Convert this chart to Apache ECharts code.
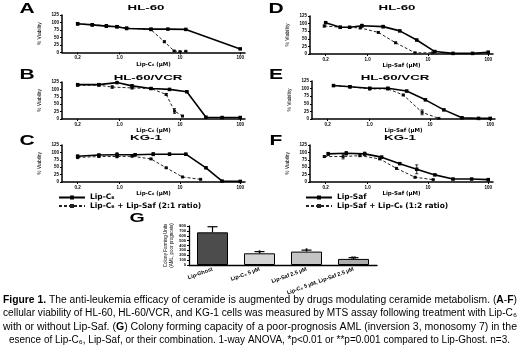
<!DOCTYPE html>
<html><head><meta charset="utf-8">
<script src="https://cdn.jsdelivr.net/npm/echarts@6/dist/echarts.min.js"></script>
<style>html,body{margin:0;padding:0;background:#fff}#c{width:520px;height:357px}</style>
</head><body><div id="c"></div>
<script>
// ---------------- DATA ----------------
const xTickVals = [0.2, 1, 10, 100];
const xTickLabels = ['0.2', '1.0', '10', '100'];
const yTickMax = 125;

// Panel A  HL-60, Lip-C6
const aSolidDose = [0.2, 0.35, 0.6, 0.9, 1.3, 3.3, 6.3, 12.5, 100];
const aSolidVal  = [96, 92, 88, 86, 80, 78, 78, 77, 12];
const aSolidErr  = [3, 4, 4, 4, 2, 2, 2, 2, 2];
const aComboDose = [0.2, 0.35, 0.6, 0.9, 1.3, 3.3, 5.5, 8, 10, 12.5];
const aComboVal  = [95, 93, 89, 86, 82, 76, 36, 5, 3, 4];
const aComboErr  = [3, 3, 3, 3, 2, 2, 3, 2, 1, 1];
// Panel B  HL-60/VCR, Lip-C6
const bSolidDose = [0.2, 0.45, 0.9, 1.6, 3.3, 6.7, 13, 27, 50, 100];
const bSolidVal  = [116, 116, 123, 112, 103, 100, 92, 6, 5, 5];
const bSolidErr  = [2, 2, 2, 3, 2, 2, 2, 1, 1, 1];
const bComboDose = [0.2, 0.45, 0.75, 1.6, 3.3, 5.9, 8.1, 11];
const bComboVal  = [114, 114, 108, 105, 103, 83, 27, 10];
const bComboErr  = [2, 2, 4, 3, 2, 3, 8, 2];
// Panel C  KG-1, Lip-C6
const cSolidDose = [0.2, 0.45, 0.9, 1.8, 3.6, 6.7, 12.5, 27, 50, 100];
const cSolidVal  = [87, 91, 92, 92, 94, 94, 94, 48, 3, 2];
const cSolidErr  = [4, 3, 7, 3, 5, 4, 3, 2, 1, 1];
const cComboDose = [0.2, 0.45, 0.9, 1.6, 3.3, 5.9, 11, 22];
const cComboVal  = [83, 86, 86, 87, 78, 48, 17, 9];
const cComboErr  = [4, 3, 4, 2, 2, 2, 2, 1];
// Panel D  HL-60, Lip-Saf
const dSolidDose = [0.2, 0.35, 0.5, 0.8, 1.8, 3.4, 6.5, 13, 26, 55, 100];
const dSolidVal  = [103, 88, 88, 93, 90, 76, 46, 8, 2, 2, 6];
const dSolidErr  = [2, 3, 2, 5, 4, 2, 2, 2, 1, 1, 1];
const dComboDose = [0.19, 0.35, 0.75, 1.5, 2.9, 6.1, 12];
const dComboVal  = [92, 88, 86, 71, 37, 4, 4];
const dComboErr  = [3, 2, 3, 2, 2, 1, 1];
// Panel E  HL-60/VCR, Lip-Saf
const eSolidDose = [0.25, 0.47, 1.0, 2.0, 4.1, 8.4, 17, 34, 64, 100];
const eSolidVal  = [110, 106, 101, 101, 92, 63, 30, 4, 2, 2];
const eSolidErr  = [2, 3, 3, 3, 2, 2, 2, 1, 1, 2];
const eComboDose = [0.25, 0.47, 1.0, 2.0, 3.6, 7.4, 14];
const eComboVal  = [110, 106, 99, 99, 79, 22, 2];
const eComboErr  = [2, 3, 3, 3, 2, 8, 1];
// Panel F  KG-1, Lip-Saf
const fSolidDose = [0.22, 0.44, 0.89, 1.7, 3.4, 6.5, 13, 26, 53, 100];
const fSolidVal  = [95, 97, 95, 84, 62, 43, 24, 10, 10, 8];
const fSolidErr  = [5, 6, 6, 3, 2, 15, 2, 2, 1, 1];
const fComboDose = [0.19, 0.39, 0.74, 1.58, 3.0, 6.1, 12.2];
const fComboVal  = [86, 86, 89, 78, 46, 16, 8];
const fComboErr  = [3, 8, 3, 2, 2, 2, 1];

// Panel G  colony forming units
const gCats  = ['Lip-Ghost', 'Lip-C₆ 5 µM', 'Lip-Saf 2.5 µM', 'Lip-C₆ 5 µM, Lip-Saf 2.5 µM'];
const gVals  = [670, 240, 275, 125];
const gErr   = [115, 35, 30, 25];
const gStars = ['', '*', '*', '**'];

const nameC6 = 'Lip-C₆';
const nameC6Combo = 'Lip-C₆ + Lip-Saf (2:1 ratio)';
const nameSaf = 'Lip-Saf';
const nameSafCombo = 'Lip-Saf + Lip-C₆ (1:2 ratio)';

const caption = [
  '{b|Figure 1.} The anti-leukemia efficacy of ceramide is augmented by drugs modulating ceramide metabolism. ({b|A}-{b|F})',
  'cellular viability of HL-60, HL-60/VCR, and KG-1 cells was measured by MTS assay following treatment with Lip-C₆',
  'with or without Lip-Saf. ({b|G}) Colony forming capacity of a poor-prognosis AML (inversion 3, monosomy 7) in the',
  'esence of Lip-C₆, Lip-Saf, or their combination. 1-way ANOVA, *p<0.01 or **p=0.001 compared to Lip-Ghost. n=3.'
];

// ---------------- LAYOUT ----------------
const FF = 'Liberation Sans, Arial, sans-serif';
const FW = 'DejaVu Sans, Liberation Sans, sans-serif';
const panels = [
  {g:[62,15,183,37.5], letter:'A', lp:[27,9], title:'HL-60', tp:[146,8.5], xname:'Lip-C₆ (µM)', s:[aSolidDose,aSolidVal,aSolidErr], c:[aComboDose,aComboVal,aComboErr], n:[nameC6,nameC6Combo]},
  {g:[62,82,183,37], letter:'B', lp:[27,75], title:'HL-60/VCR', tp:[148,78], xname:'Lip-C₆ (µM)', s:[bSolidDose,bSolidVal,bSolidErr], c:[bComboDose,bComboVal,bComboErr], n:[nameC6,nameC6Combo]},
  {g:[62,145,183,37], letter:'C', lp:[27,141], title:'KG-1', tp:[146,138], xname:'Lip-C₆ (µM)', s:[cSolidDose,cSolidVal,cSolidErr], c:[cComboDose,cComboVal,cComboErr], n:[nameC6,nameC6Combo]},
  {g:[310,16,183,38], letter:'D', lp:[276,9], title:'HL-60', tp:[397,8], xname:'Lip-Saf (µM)', s:[dSolidDose,dSolidVal,dSolidErr], c:[dComboDose,dComboVal,dComboErr], n:[nameSaf,nameSafCombo]},
  {g:[312,81,183,38], letter:'E', lp:[276,75], title:'HL-60/VCR', tp:[395,78], xname:'Lip-Saf (µM)', s:[eSolidDose,eSolidVal,eSolidErr], c:[eComboDose,eComboVal,eComboErr], n:[nameSaf,nameSafCombo]},
  {g:[310,145,183,37], letter:'F', lp:[276,141], title:'KG-1', tp:[400,138], xname:'Lip-Saf (µM)', s:[fSolidDose,fSolidVal,fSolidErr], c:[fComboDose,fComboVal,fComboErr], n:[nameSaf,nameSafCombo]}
];
const gGrid = {left:189, top:226, width:188, height:39};

// ---------------- BUILD ----------------
function zip(xs, ys, es){ return xs.map((x,i)=> es ? [x, ys[i], es[i]] : [x, ys[i]]); }
function errRender(params, api){
  const x = api.value(0), y = api.value(1), e = api.value(2);
  if (!e) return;
  const hi = api.coord([x, y + e]), lo = api.coord([x, Math.max(0, y - e)]);
  const w = 1.5, st = {stroke:'#000', lineWidth:0.8};
  return {type:'group', children:[
    {type:'line', shape:{x1:hi[0],y1:hi[1],x2:lo[0],y2:lo[1]}, style:st},
    {type:'line', shape:{x1:hi[0]-w,y1:hi[1],x2:hi[0]+w,y2:hi[1]}, style:st},
    {type:'line', shape:{x1:lo[0]-w,y1:lo[1],x2:lo[0]+w,y2:lo[1]}, style:st}
  ]};
}
const grids=[], xAxes=[], yAxes=[], series=[], graphics=[];
panels.forEach((p,i)=>{
  grids.push({left:p.g[0], top:p.g[1], width:p.g[2], height:p.g[3]});
  xAxes.push({type:'log', logBase:10, gridIndex:i, min:0.11, max:120,
    axisLine:{lineStyle:{color:'#000', width:1.5}},
    axisTick:{show:true, customValues:xTickVals, length:2, lineStyle:{color:'#000', width:1}},
    minorTick:{show:false},
    axisLabel:{customValues:xTickVals, fontSize:4.5, margin:3, color:'#000', fontFamily:FF, fontWeight:'bold',
      formatter:v=>{const k=xTickVals.findIndex(t=>Math.abs(t-v)<1e-6); return k>=0?xTickLabels[k]:'';}},
    splitLine:{show:false},
    name:p.xname, nameLocation:'middle', nameGap:8,
    nameTextStyle:{fontSize:5.5, fontWeight:'bold', fontFamily:FW, color:'#000'}});
  yAxes.push({type:'value', gridIndex:i, min:0, max:yTickMax, interval:25,
    axisLine:{show:true, lineStyle:{color:'#000', width:1.5}},
    axisTick:{show:true, length:2, lineStyle:{color:'#000'}},
    axisLabel:{fontSize:4.5, margin:3, color:'#000', fontFamily:FF, fontWeight:'bold'},
    splitLine:{show:false},
    name:'% Viability', nameLocation:'middle', nameGap:20,
    nameTextStyle:{fontSize:5, fontFamily:FF, color:'#000'}});
  series.push({type:'line', name:p.n[0], xAxisIndex:i, yAxisIndex:i, data:zip(p.s[0],p.s[1]),
    symbol:'rect', symbolSize:3.5, itemStyle:{color:'#000'}, lineStyle:{color:'#000', width:1.6}, z:3, animation:false});
  series.push({type:'line', name:p.n[1], xAxisIndex:i, yAxisIndex:i, data:zip(p.c[0],p.c[1]),
    symbol:'rect', symbolSize:3, itemStyle:{color:'#222'}, lineStyle:{color:'#222', width:1, type:[3,2]}, z:2, animation:false});
  series.push({type:'custom', xAxisIndex:i, yAxisIndex:i, data:zip(p.s[0],p.s[1],p.s[2]), renderItem:errRender, z:4, animation:false, silent:true});
  series.push({type:'custom', xAxisIndex:i, yAxisIndex:i, data:zip(p.c[0],p.c[1],p.c[2]), renderItem:errRender, z:4, animation:false, silent:true});
  graphics.push({type:'text', x:p.lp[0], y:p.lp[1], scaleX:1.5, style:{text:p.letter, fontSize:14, fontWeight:'bold', fontFamily:FF, fill:'#000', textAlign:'center', textVerticalAlign:'middle'}});
  graphics.push({type:'text', x:p.tp[0], y:p.tp[1], scaleX:1.9, style:{text:p.title, fontSize:7, fontWeight:'bold', fontFamily:FF, fill:'#000', textAlign:'center', textVerticalAlign:'middle'}});
});

// Panel G
const gi = panels.length;
grids.push(gGrid);
xAxes.push({type:'category', gridIndex:gi, data:gCats,
  axisLine:{lineStyle:{color:'#000', width:1.3}}, axisTick:{show:false},
  axisLabel:{rotate:20, interval:0, fontSize:5.5, margin:4, color:'#000', fontFamily:FF, fontWeight:'bold'}});
yAxes.push({type:'value', gridIndex:gi, min:0, max:800, interval:100,
  axisLine:{show:true, lineStyle:{color:'#000', width:1.3}},
  axisTick:{show:true, length:2, lineStyle:{color:'#000'}},
  axisLabel:{fontSize:4, margin:3, color:'#000', fontFamily:FF, fontWeight:'bold'},
  splitLine:{show:false},
  name:'Colony Forming Units\n(AML, poor prognosis)', nameLocation:'middle', nameGap:14,
  nameTextStyle:{fontSize:4.5, fontFamily:FF, color:'#000', lineHeight:6}});
const gColors = ['#4c4c4c', '#d4d4d4', '#c4c4c4', '#acacac'];
series.push({type:'bar', xAxisIndex:gi, yAxisIndex:gi, barWidth:31, animation:false,
  data:gVals.map((v,k)=>({value:v, itemStyle:{color:gColors[k], borderColor:'#000', borderWidth:1}}))});
series.push({type:'custom', xAxisIndex:gi, yAxisIndex:gi, animation:false, silent:true, z:5,
  data:gVals.map((v,k)=>[k, v, gErr[k]]),
  renderItem:(params, api)=>{
    const k = api.value(0), v = api.value(1), e = api.value(2);
    const top = api.coord([k, v + e]), base = api.coord([k, v]);
    const st = {stroke:'#000', lineWidth:1.2};
    const ch = [
      {type:'line', shape:{x1:base[0],y1:base[1],x2:top[0],y2:top[1]}, style:st},
      {type:'line', shape:{x1:top[0]-5,y1:top[1],x2:top[0]+5,y2:top[1]}, style:st}
    ];
    const s = gStars[params.dataIndex];
    if (s) ch.push({type:'text', x:top[0], y:top[1]+1, style:{text:s, fontSize:7, fontWeight:'bold', fill:'#000', textAlign:'center', textVerticalAlign:'middle', fontFamily:FF}});
    return {type:'group', children:ch};
  }});
graphics.push({type:'text', x:137, y:218, scaleX:1.5, style:{text:'G', fontSize:13, fontWeight:'bold', fontFamily:FF, fill:'#000', textAlign:'center', textVerticalAlign:'middle'}});

// Caption (each line stretched to its measured target width, as in the justified original)
const capY = [300, 313.5, 327, 340.5];
const capX = [3, 3, 3, 9];
const capW = [514, 514, 514, 501];
const mctx = document.createElement('canvas').getContext('2d');
function measureRich(t){
  let w = 0;
  const re = /\{b\|([^}]*)\}|([^{]+)/g; let m;
  while ((m = re.exec(t))){
    if (m[1] !== undefined){ mctx.font = 'bold 10px ' + FF; w += mctx.measureText(m[1]).width; }
    else { mctx.font = '10px ' + FF; w += mctx.measureText(m[2]).width; }
  }
  return w;
}
caption.forEach((t,k)=>{
  const sx = capW[k] / measureRich(t);
  graphics.push({type:'text', x:capX[k], y:capY[k], scaleX:sx, style:{text:t, fontSize:10, fontFamily:FF, fill:'#000', textVerticalAlign:'middle',
    rich:{b:{fontSize:10, fontWeight:'bold', fontFamily:FF, fill:'#000'}}}});
});

const legTxt = {fontSize:7.5, fontWeight:'bold', fontFamily:FW, color:'#000'};
const option = {
  backgroundColor:'#fff',
  animation:false,
  grid:grids, xAxis:xAxes, yAxis:yAxes, series:series,
  legend:[
    {data:[nameC6, nameC6Combo], left:58, top:193.5, orient:'vertical', itemGap:0.5, itemWidth:26, itemHeight:5, padding:0, textStyle:legTxt, selectedMode:false},
    {data:[nameSaf, nameSafCombo], left:305, top:193.5, orient:'vertical', itemGap:0.5, itemWidth:26, itemHeight:5, padding:0, textStyle:legTxt, selectedMode:false}
  ],
  graphic:graphics
};
const chart = echarts.init(document.getElementById('c'), null, {renderer:'canvas'});
chart.setOption(option);
</script></body></html>
